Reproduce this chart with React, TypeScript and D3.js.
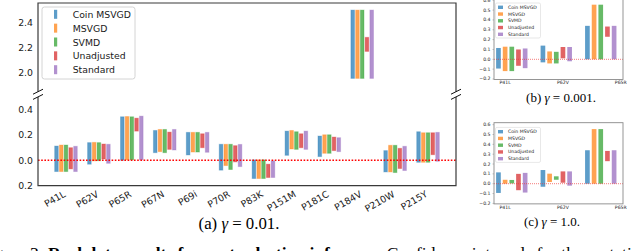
import * as d3 from "d3";

// confidence intervals, [low, high] per mutation
const categories = ["P41L", "P62V", "P65R", "P67N", "P69i", "P70R", "P83K", "P151M", "P181C", "P184V", "P210W", "P215Y"];
const methods = ["Coin MSVGD", "MSVGD", "SVMD", "Unadjusted", "Standard"];
const palette = ["#1f77b4", "#ff7f0e", "#2ca02c", "#d62728", "#9467bd"];

const coinMsvgd = [[-0.089, 0.112], [-0.031, 0.139], [0.0, 0.343], [0.06, 0.235], [0.042, 0.22], [-0.078, 0.126], [-0.144, 0.003], [0.039, 0.23], [0.029, 0.191], [1.955, 2.494], [-0.092, 0.076], [-0.016, 0.225]];
const msvgd = [[-0.089, 0.12], [-0.005, 0.141], [0.003, 0.345], [0.068, 0.243], [0.065, 0.22], [-0.042, 0.126], [-0.144, 0.003], [0.089, 0.235], [0.055, 0.201], [1.955, 2.494], [-0.092, 0.118], [-0.016, 0.217]];
const svmd = [[-0.089, 0.12], [-0.003, 0.139], [0.003, 0.343], [0.06, 0.243], [0.065, 0.22], [-0.073, 0.126], [-0.144, 0.003], [0.086, 0.225], [0.055, 0.201], [1.955, 2.494], [-0.097, 0.118], [-0.016, 0.217]];
const unadjusted = [[-0.068, 0.099], [0.01, 0.128], [0.23, 0.332], [0.086, 0.222], [0.099, 0.209], [-0.013, 0.115], [-0.136, -0.031], [0.099, 0.209], [0.076, 0.183], [2.168, 2.279], [-0.065, 0.094], [0.044, 0.217]];
const standard = [[-0.089, 0.11], [-0.024, 0.126], [0.003, 0.348], [0.081, 0.243], [0.063, 0.22], [-0.05, 0.125], [-0.136, -0.005], [0.086, 0.23], [0.068, 0.178], [1.955, 2.494], [-0.081, 0.11], [-0.008, 0.22]];

const upperTicks = [2.0, 2.2, 2.4];
const lowerTicks = [-0.2, 0.0, 0.2, 0.4];
const lowerTickLabels = ["0.2", "0.0", "0.2", "0.4"];

// small panels (b) gamma = 0.001 and (c) gamma = 1.0
const smallCategories = ["P41L", "P62V", "P65R"];
const coinSmall = [[-0.094, 0.115], [-0.031, 0.139], [0.0, 0.34]];
const msvgdB = [[-0.12, 0.128], [-0.042, 0.08], [0.0, 0.555]];
const svmdB = [[-0.12, 0.128], [-0.042, 0.076], [0.0, 0.555]];
const msvgdC = [[0.0, 0.04], [0.017, 0.102], [0.0, 0.555]];
const svmdC = [[0.003, 0.038], [0.04, 0.075], [0.0, 0.555]];
const unadjSmall = [[-0.066, 0.1], [0.01, 0.125], [0.229, 0.333]];
const standSmall = [[-0.09, 0.11], [-0.02, 0.125], [0.0, 0.34]];
const smallTicks = [-0.2, -0.1, 0.0, 0.1, 0.2, 0.3, 0.4, 0.5, 0.6];

const sans = "DejaVu Sans, sans-serif";
const serif = "Liberation Serif, Times New Roman, serif";
const ink = "#1a1a1a";

function MainPanel() {
  const left = 38;
  const right = 456;
  const x = d3.scalePoint<string>().domain(categories).range([left, right]).padding(0.85);
  const yTop = d3.scaleLinear().domain([1.85, 2.55]).range([91.7, 3]);
  const yBot = d3.scaleLinear().domain([-0.2, 0.5]).range([185.6, 96.9]);
  const off = d3.scaleLinear().domain([0, methods.length - 1]).range([-9.5, 9.5]);
  const series = [coinMsvgd, msvgd, svmd, unadjusted, standard];
  const bw = 3.6;

  const breaks = [
    [left, yTop.range()[0]],
    [right, yTop.range()[0]],
    [left, yBot.range()[1]],
    [right, yBot.range()[1]],
  ];

  return (
    <g>
      {series.map((s, j) =>
        s.map(([lo, hi], i) => {
          const y = lo > 1 ? yTop : yBot;
          return (
            <rect
              key={`${j}-${i}`}
              x={x(categories[i])! + off(j) - bw / 2}
              y={y(hi)}
              width={bw}
              height={y(lo) - y(hi)}
              fill={palette[j]}
              fillOpacity={0.72}
              stroke={palette[j]}
              strokeOpacity={0.3}
              strokeWidth={1}
            />
          );
        })
      )}

      <line x1={left} x2={right} y1={yBot(0)} y2={yBot(0)} stroke="#ff0000" strokeWidth={1.5} strokeDasharray="1.6 1.6" />

      <path d={`M${left},${yTop.range()[0]}V${yTop.range()[1]}H${right}V${yTop.range()[0]}`} fill="none" stroke="#3a3a3a" strokeWidth={1.2} />
      <path d={`M${left},${yBot.range()[1]}V${yBot.range()[0]}H${right}V${yBot.range()[1]}`} fill="none" stroke="#3a3a3a" strokeWidth={1.2} />
      {breaks.map(([bx, by], k) => (
        <line key={k} x1={bx - 5} y1={by + 2.5} x2={bx + 5} y2={by - 2.5} stroke="#111" strokeWidth={1} />
      ))}

      {upperTicks.map((t) => (
        <text key={t} x={left - 5} y={yTop(t)} textAnchor="end" dominantBaseline="central" fontSize={9.3} fill={ink} fontFamily={sans}>
          {t.toFixed(1)}
        </text>
      ))}
      {lowerTicks.map((t, k) => (
        <text key={t} x={left - 5} y={yBot(t)} textAnchor="end" dominantBaseline="central" fontSize={9.3} fill={ink} fontFamily={sans}>
          {lowerTickLabels[k]}
        </text>
      ))}

      {categories.map((c) => (
        <text
          key={c}
          transform={`translate(${x(c)! - 1.5},193) rotate(-30)`}
          textAnchor="end"
          dominantBaseline="central"
          fontSize={9.3}
          fill={ink}
          fontFamily={sans}
        >
          {c}
        </text>
      ))}

      <rect x={42} y={7} width={93} height={72} rx={2.5} fill="#fff" fillOpacity={0.85} stroke="#d4d4d4" strokeWidth={1} />
      {methods.map((m, j) => (
        <g key={m} transform={`translate(0,${14.3 + j * 13.85})`}>
          <rect x={54} y={-4.5} width={3.2} height={9} fill={palette[j]} fillOpacity={0.72} />
          <text x={72.7} y={0} dominantBaseline="central" fontSize={9.3} fill={ink} fontFamily={sans}>
            {m}
          </text>
        </g>
      ))}

      <text x={239} y={228.5} textAnchor="middle" fontSize={16.8} fontFamily={serif} fill="#000">
        (a) <tspan fontStyle="italic">γ</tspan> = 0.01.
      </text>
    </g>
  );
}

function SmallPanel({ zeroY, msv, svm, caption, captionX, captionY }) {
  const left = 494;
  const right = 623;
  const unit = 98.4;
  const y = d3.scaleLinear().domain([-0.205, 0.62]).range([zeroY + 0.205 * unit, zeroY - 0.62 * unit]);
  const x = d3.scaleLinear().domain([-0.1, 2.8]).range([left, right]);
  const series = [coinSmall, msv, svm, unadjSmall, standSmall];
  const step = 0.15;
  const bw = 0.105;
  const top = y(0.62);
  const bottom = y(-0.205);

  return (
    <g>
      {series.map((s, j) =>
        s.map(([lo, hi], i) => (
          <rect
            key={`${j}-${i}`}
            x={x(i + j * step - bw / 2)}
            y={y(hi)}
            width={x(bw) - x(0)}
            height={y(lo) - y(hi)}
            fill={palette[j]}
            fillOpacity={0.72}
          />
        ))
      )}
      <line x1={left} x2={right} y1={y(0)} y2={y(0)} stroke="#f03030" strokeOpacity={0.8} strokeWidth={0.8} strokeDasharray="1 1" />
      <rect x={left} y={top} width={right - left} height={bottom - top} fill="none" stroke="#8a8a8a" strokeWidth={0.9} />

      {smallTicks.map((t) => (
        <g key={t}>
          <line x1={left - 1.5} x2={left} y1={y(t)} y2={y(t)} stroke="#8a8a8a" strokeWidth={0.5} />
          <text x={left - 3.5} y={y(t)} textAnchor="end" dominantBaseline="central" fontSize={4.6} fill={ink} fontFamily={sans}>
            {d3.format(".1f")(t).replace("-", "\u2212")}
          </text>
        </g>
      ))}
      {smallCategories.map((c, i) => (
        <text key={c} x={x(i * (1 + 2 * step) + step)} y={bottom + 1.6} textAnchor="middle" dominantBaseline="hanging" fontSize={4.6} fill={ink} fontFamily={sans}>
          {c}
        </text>
      ))}

      <rect x={495.5} y={top + 4.7} width={45} height={35} rx={1.5} fill="#fff" fillOpacity={0.85} stroke="#d0d0d0" strokeWidth={0.5} />
      {methods.map((m, j) => (
        <g key={m} transform={`translate(0,${top + 9 + j * 6.75})`}>
          <rect x={498} y={-1.7} width={5} height={3.4} fill={palette[j]} fillOpacity={0.72} />
          <text x={508} y={0} dominantBaseline="central" fontSize={4.6} fill={ink} fontFamily={sans}>
            {m}
          </text>
        </g>
      ))}

      <text x={captionX} y={captionY} textAnchor="middle" fontSize={13} fontFamily={serif} fill="#000">
        {caption[0]}
        <tspan fontStyle="italic">γ</tspan>
        {caption[1]}
      </text>
    </g>
  );
}

export default function App() {
  return (
    <svg
      width={640}
      height={251}
      viewBox="0 0 640 251"
      style={{ position: "absolute", left: 0, top: 0, background: "#fff" }}
    >
      <rect width={640} height={251} fill="#fff" />
      <MainPanel />
      <SmallPanel zeroY={59.3} msv={msvgdB} svm={svmdB} caption={["(b) ", " = 0.001."]} captionX={561} captionY={102} />
      <SmallPanel zeroY={183.7} msv={msvgdC} svm={svmdC} caption={["(c) ", " = 1.0."]} captionX={552} captionY={225.7} />
      <text x={-20} y={259} fontSize={17.5} fontFamily={serif} fill="#000">
        Figure 3: <tspan fontWeight="bold">Real data results for post-selection inference.</tspan> Confidence intervals for the mutations
      </text>
    </svg>
  );
}
